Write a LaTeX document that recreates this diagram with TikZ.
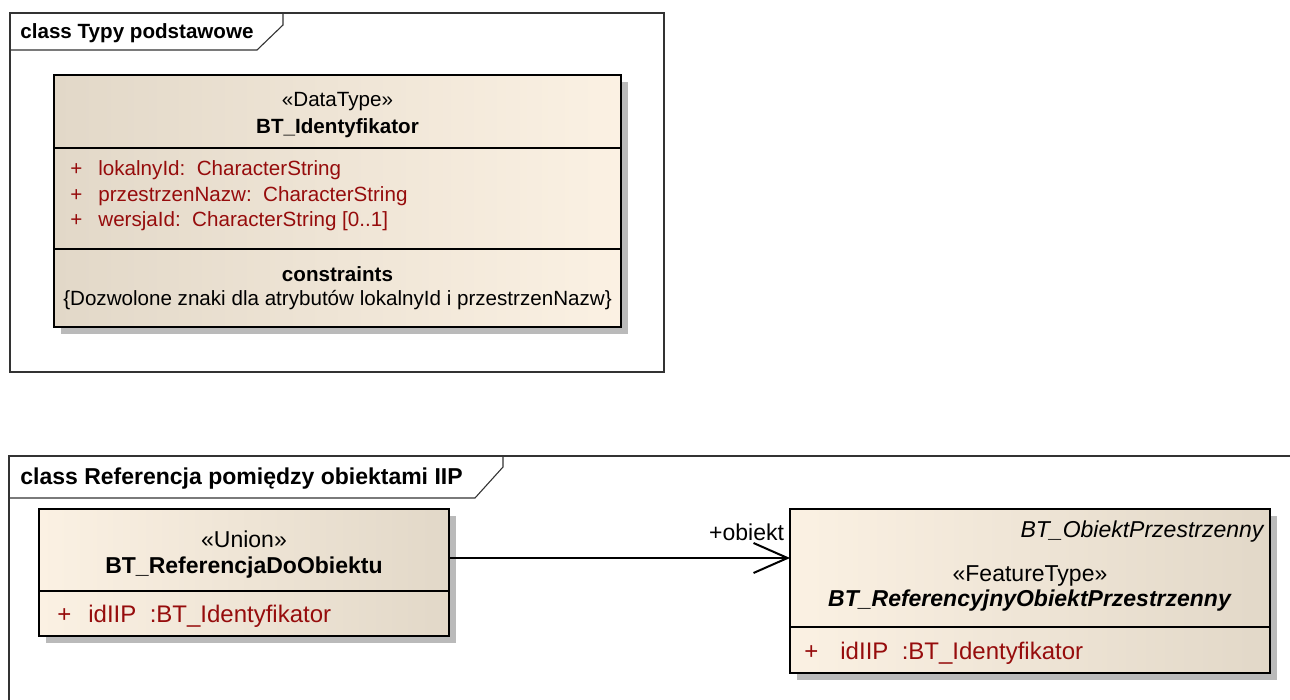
\documentclass[tikz,border=0pt]{standalone}
\usepackage{fontspec}
\setmainfont{Liberation Sans}
\usepackage{tikz}
\usetikzlibrary{arrows.meta,calc,positioning,shadows}
\definecolor{umldark}{RGB}{226,216,200}
\definecolor{umllight}{RGB}{251,241,227}
\definecolor{attrred}{RGB}{150,12,12}
\tikzset{
  frame/.style    = {line width=0.55pt, draw=black!80},
  classbox/.style = {draw, line width=1.1pt, inner sep=0pt, outer sep=0pt,
                     anchor=north west,
                     drop shadow={shadow xshift=3.5pt, shadow yshift=-3.5pt,
                                  fill=black!27, opacity=1}},
  sep/.style      = {line width=1.1pt},
  upper/.style    = {inner sep=0pt, font=\fontsize{10.3}{12}\selectfont},
  lower/.style    = {inner sep=0pt, font=\fontsize{11.5}{14}\selectfont},
  lowattr/.style  = {inner sep=0pt, font=\fontsize{12}{14}\selectfont},
  attr/.style     = {anchor=west, text=attrred},
  assoc/.style    = {line width=1pt, -{Straight Barb[length=17pt,width=15pt,line width=1pt]}},
}

\begin{document}
\begin{tikzpicture}[x=0.5pt,y=-0.5pt]
  \useasboundingbox (0,0) rectangle (1290,700);

  % frame: Typy podstawowe
  \draw[frame] (10,13) rectangle (664,372);
  \draw[frame] (10,50) -- (257,50) -- (283,25) -- (283,13);
  \node[upper, anchor=west] (frameA) at (20,33) {\textbf{class Typy podstawowe}};

  \node[classbox, left color=umldark, right color=umllight,
        minimum width=283.5pt, minimum height=126pt] (datatype) at (54,75) {};
  \draw[sep] ($(datatype.north west)+(0,73)$) -- ($(datatype.north east)+(0,73)$);
  \draw[sep] ($(datatype.north west)+(0,174)$) -- ($(datatype.north east)+(0,174)$);
  \node[upper] (dtstereo) at ($(datatype.north)+(0,27)$) {«DataType»};
  \node[upper] (dtname) at ($(datatype.north)+(0,53)$) {\textbf{BT\_Identyfikator}};
  \node[upper, attr] (dtattrA) at ($(datatype.north west)+(16,95)$)
    {\makebox[14pt][l]{+}lokalnyId:\ \ CharacterString};
  \node[upper, attr] (dtattrB) at ($(datatype.north west)+(16,121)$)
    {\makebox[14pt][l]{+}przestrzenNazw:\ \ CharacterString};
  \node[upper, attr] (dtattrC) at ($(datatype.north west)+(16,146)$)
    {\makebox[14pt][l]{+}wersjaId:\ \ CharacterString [0..1]};
  \node[upper] (dtconstr) at ($(datatype.north)+(0,199)$) {\textbf{constraints}};
  \node[upper] (dtrule) at ($(datatype.north)+(0,225)$)
    {\{Dozwolone znaki dla atrybutów lokalnyId i przestrzenNazw\}};

  % frame: Referencja pomiedzy obiektami IIP
  \draw[frame] (1290,456) -- (9,456) -- (9,700);
  \draw[frame] (9,498) -- (475,498) -- (503,467) -- (503,456);
  \node[lower, anchor=west] (frameB) at (20,479)
    {\textbf{class Referencja pomiędzy obiektami IIP}};

  \node[classbox, left color=umllight, right color=umldark,
        minimum width=205pt, minimum height=63.5pt] (union) at (39,509) {};
  \draw[sep] ($(union.north west)+(0,82)$) -- ($(union.north east)+(0,82)$);
  \node[lower] (unstereo) at ($(union.north)+(0,30)$) {«Union»};
  \node[lower] (unname) at ($(union.north)+(0,59)$) {\textbf{BT\_ReferencjaDoObiektu}};
  \node[lowattr, attr] (unattr) at ($(union.north west)+(18,107)$)
    {\makebox[15.5pt][l]{+}idIIP\ \ :BT\_Identyfikator};

  \node[classbox, left color=umllight, right color=umldark,
        minimum width=240pt, minimum height=82pt] (feature) at (790,509) {};
  \draw[sep] ($(feature.north west)+(0,118)$) -- ($(feature.north east)+(0,118)$);
  \node[lower, anchor=east] (ftparent) at ($(feature.north east)+(-5,23)$)
    {\textit{BT\_ObiektPrzestrzenny}};
  \node[lower] (ftstereo) at ($(feature.north)+(0,67)$) {«FeatureType»};
  \node[lower] (ftname) at ($(feature.north)+(0,92)$)
    {\textbf{\textit{BT\_ReferencyjnyObiektPrzestrzenny}}};
  \node[lowattr, attr] (ftattr) at ($(feature.north west)+(14,144)$)
    {\makebox[18pt][l]{+}idIIP\ \ :BT\_Identyfikator};

  % association
  \coordinate (assocy) at (0,558);
  \draw[assoc] (union.east |- assocy) -- (feature.west |- assocy)
    node[lower, pos=1, anchor=south east, xshift=-2.5pt, yshift=8pt] (rolelbl) {+obiekt};
\end{tikzpicture}
\end{document}
